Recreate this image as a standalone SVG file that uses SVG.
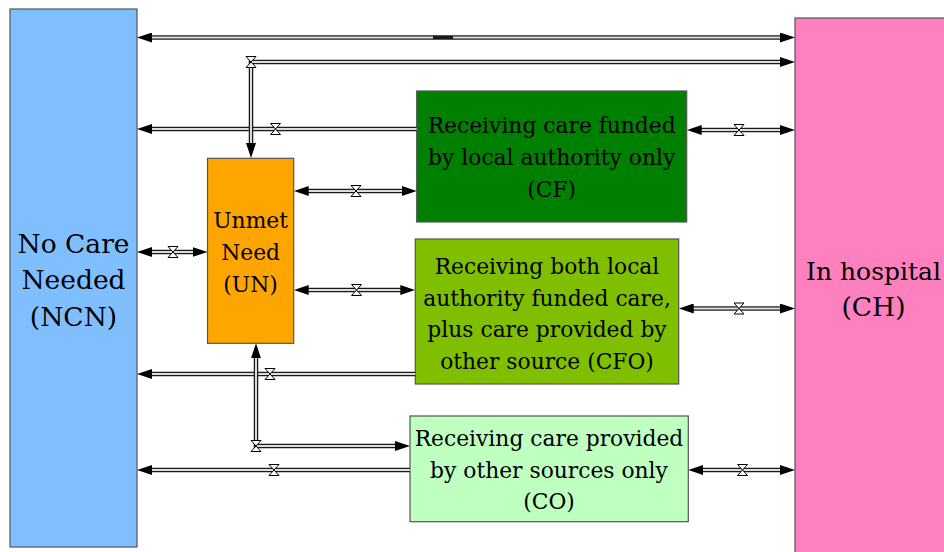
<svg xmlns="http://www.w3.org/2000/svg" width="944" height="552" viewBox="0 0 944 552">
<defs>
<marker id="ah" viewBox="0 0 15 10" refX="5" refY="5" markerWidth="15" markerHeight="10" markerUnits="userSpaceOnUse" orient="auto-start-reverse">
<path d="M0,0 L15,5 L0,10 z" fill="#000"/>
</marker>
<path id="valve" d="M-5,-5.5 L5,-5.5 L-5,5.5 L5,5.5 Z" fill="#fff" stroke="#000" stroke-width="1"/>
</defs>
<style>
.box{stroke:#555;stroke-width:1.2}
.big{font-family:"DejaVu Serif","Liberation Serif",serif;font-size:26.5px;fill:#000;text-anchor:middle}
.mid{font-family:"DejaVu Serif","Liberation Serif",serif;font-size:21.8px;fill:#000;text-anchor:middle}
.po{fill:none;stroke:#1a1a1a;stroke-width:4.5}
.pi{fill:none;stroke:#dcdcdc;stroke-width:2}
.ph{fill:none;stroke:none;marker-end:url(#ah)}
.pb{fill:none;stroke:none;marker-start:url(#ah);marker-end:url(#ah)}
</style>
<rect width="944" height="552" fill="#fff"/>
<g id="NCN">
<rect class="box" x="10" y="9" width="127" height="538" fill="#80bfff"/>
<text class="big" x="73.5" y="253">No Care</text>
<text class="big" x="73.5" y="289">Needed</text>
<text class="big" x="73.5" y="326">(NCN)</text>
</g>
<g id="CH">
<rect class="box" x="795" y="18" width="162" height="540" fill="#ff80bf"/>
<text class="big" x="873.5" y="280" style="font-size:25px">In hospital</text>
<text class="big" x="873.5" y="316">(CH)</text>
</g>
<g id="CF">
<rect class="box" x="416.7" y="91" width="270" height="131" fill="#008000"/>
<text class="mid" x="551.7" y="133">Receiving care funded</text>
<text class="mid" x="551.7" y="165">by local authority only</text>
<text class="mid" x="551.7" y="197">(CF)</text>
</g>
<g id="UN">
<rect class="box" x="207.5" y="158.3" width="86.2" height="185" fill="#ffa500"/>
<text class="mid" x="250.6" y="228">Unmet</text>
<text class="mid" x="250.6" y="260">Need</text>
<text class="mid" x="250.6" y="292">(UN)</text>
</g>
<g id="CFO">
<rect class="box" x="415.3" y="239" width="263.4" height="145" fill="#80bf00"/>
<text class="mid" x="547" y="274">Receiving both local</text>
<text class="mid" x="547" y="305.5">authority funded care,</text>
<text class="mid" x="547" y="337">plus care provided by</text>
<text class="mid" x="547" y="369">other source (CFO)</text>
</g>
<g id="CO">
<rect class="box" x="410" y="416" width="278.3" height="105.7" fill="#bfffbf"/>
<text class="mid" x="549" y="446">Receiving care provided</text>
<text class="mid" x="549" y="478">by other sources only</text>
<text class="mid" x="549" y="509">(CO)</text>
</g>
<g id="connectors">
<path class="po" d="M147,37.5 H785"/><path class="pi" d="M147,37.5 H785"/><path class="pb" d="M147,37.5 H785"/>
<rect x="433" y="36" width="20" height="3" fill="#1a1a1a"/>
<path class="po" d="M416.7,129 H147"/><path class="pi" d="M416.7,129 H147"/><path class="ph" d="M416.7,129 H147"/>
<path class="po" d="M785,62 H251 V148"/><path class="pi" d="M785,62 H251 V148"/><path class="pb" d="M785,62 H251 V148"/>
<path class="po" d="M696.7,130 H785"/><path class="pi" d="M696.7,130 H785"/><path class="pb" d="M696.7,130 H785"/>
<path class="po" d="M303.7,191 H406.7"/><path class="pi" d="M303.7,191 H406.7"/><path class="pb" d="M303.7,191 H406.7"/>
<path class="po" d="M147,252 H197.5"/><path class="pi" d="M147,252 H197.5"/><path class="pb" d="M147,252 H197.5"/>
<path class="po" d="M303.7,290 H405.3"/><path class="pi" d="M303.7,290 H405.3"/><path class="pb" d="M303.7,290 H405.3"/>
<path class="po" d="M688.7,308.5 H785"/><path class="pi" d="M688.7,308.5 H785"/><path class="pb" d="M688.7,308.5 H785"/>
<path class="po" d="M415.3,374 H147"/><path class="pi" d="M415.3,374 H147"/><path class="ph" d="M415.3,374 H147"/>
<path class="po" d="M256,353.3 V446 H400"/><path class="pi" d="M256,353.3 V446 H400"/><path class="pb" d="M256,353.3 V446 H400"/>
<path class="po" d="M410,470 H147"/><path class="pi" d="M410,470 H147"/><path class="ph" d="M410,470 H147"/>
<path class="po" d="M698.3,470 H785"/><path class="pi" d="M698.3,470 H785"/><path class="pb" d="M698.3,470 H785"/>
<use href="#valve" x="251" y="62"/>
<use href="#valve" x="275.5" y="129"/>
<use href="#valve" x="739" y="130"/>
<use href="#valve" x="356" y="191"/>
<use href="#valve" x="173" y="252"/>
<use href="#valve" x="356.5" y="290"/>
<use href="#valve" x="739" y="308.5"/>
<use href="#valve" x="270" y="374"/>
<use href="#valve" x="256" y="446"/>
<use href="#valve" x="274" y="470"/>
<use href="#valve" x="742.5" y="470"/>
</g>
</svg>
